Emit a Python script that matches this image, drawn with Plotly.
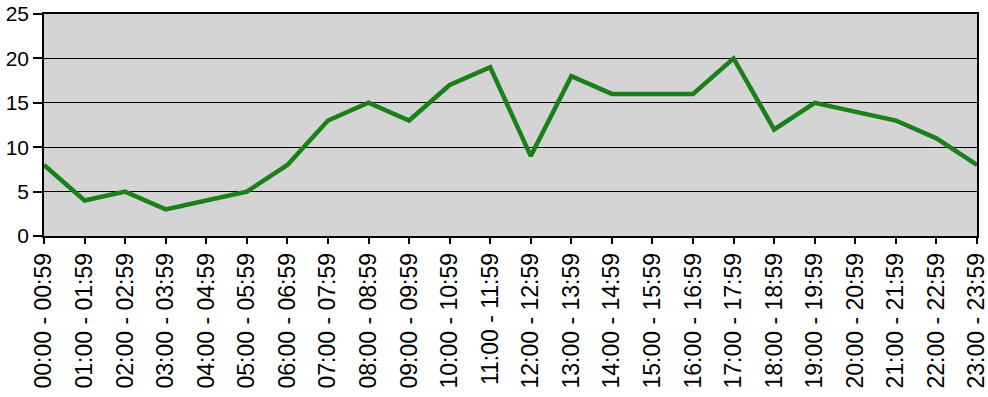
import plotly.graph_objects as go

categories = [f"{h:02d}:00 - {h:02d}:59" for h in range(24)]
values = [8, 4, 5, 3, 4, 5, 8, 13, 15, 13, 17, 19, 9, 18, 16, 16, 16, 20, 12, 15, 14, 13, 11, 8]
y_ticks = [0, 5, 10, 15, 20, 25]

fig = go.Figure()
fig.add_trace(go.Scatter(
    x=categories, y=values, mode="lines",
    line=dict(color="#1a801a", width=4.5),
    hoverinfo="x+y",
))

fig.update_layout(
    width=988, height=397,
    margin=dict(l=44, r=11, t=14, b=161, autoexpand=False),
    paper_bgcolor="white",
    plot_bgcolor="#d4d4d4",
    showlegend=False,
    font=dict(family="Liberation Sans, Arial, sans-serif", color="black"),
)
fig.update_xaxes(
    type="category", range=[0, 23], automargin=False,
    tickangle=-90, tickfont=dict(size=23),
    ticks="outside", ticklen=6, tickcolor="black", tickwidth=1.5,
    showline=True, linecolor="black", linewidth=1.5, mirror=True,
    showgrid=False, zeroline=False,
)
fig.update_yaxes(
    range=[0, 25], tickvals=y_ticks, automargin=False,
    tickfont=dict(size=21),
    ticks="outside", ticklen=9, tickcolor="black", tickwidth=1.5,
    showline=True, linecolor="black", linewidth=1.5, mirror=True,
    showgrid=True, gridcolor="black", gridwidth=1,
    zeroline=False,
)

fig.write_html("out.html")
